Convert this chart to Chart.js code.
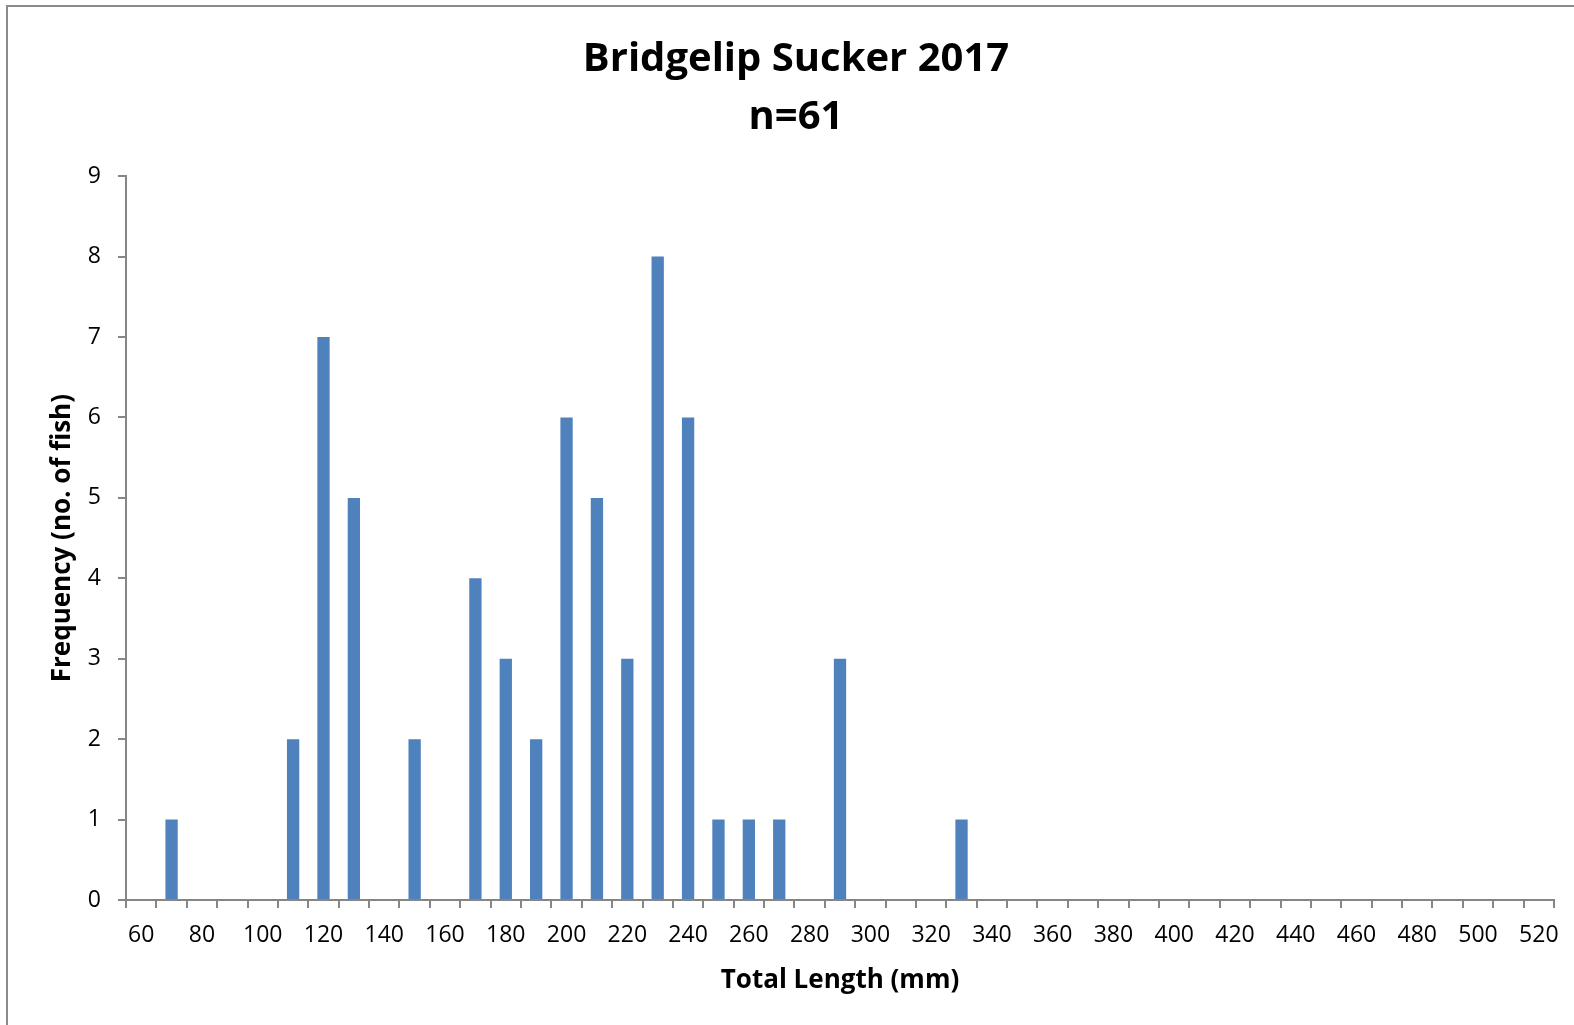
<!DOCTYPE html>
<html>
<head>
<meta charset="utf-8">
<script src="https://cdn.jsdelivr.net/npm/chart.js@4"></script>
<style>
    html, body { margin: 0; padding: 0; background: #fff; }
    #wrap { width: 1574px; height: 1025px; position: relative; }
</style>
</head>
<body>
<div id="wrap"><canvas id="myChart"></canvas></div>
<script>
// total length bins (mm)
const lengthBins = ['60', '70', '80', '90', '100', '110', '120', '130', '140', '150',
    '160', '170', '180', '190', '200', '210', '220', '230', '240', '250',
    '260', '270', '280', '290', '300', '310', '320', '330', '340', '350',
    '360', '370', '380', '390', '400', '410', '420', '430', '440', '450',
    '460', '470', '480', '490', '500', '510', '520'];

// number of fish in each bin
const fishCounts = [0, 1, 0, 0, 0, 2, 7, 5, 0, 2,
    0, 4, 3, 2, 6, 5, 3, 8, 6, 1,
    1, 1, 0, 3, 0, 0, 0, 1, 0, 0,
    0, 0, 0, 0, 0, 0, 0, 0, 0, 0,
    0, 0, 0, 0, 0, 0, 0];

const freqTicks = [0, 1, 2, 3, 4, 5, 6, 7, 8, 9];

const titleLines = ['Bridgelip Sucker 2017', 'n=61'];

const axisGray = '#868686';
const barBlue = '#4F81BD';
const fontFamily = "'Open Sans', 'Noto Sans', sans-serif";

// white page with the chart frame (top and left edges only show)
const frame = {
    id: 'frame',
    beforeDraw(chart) {
        const c = chart.ctx;
        c.save();
        c.fillStyle = '#fff';
        c.fillRect(0, 0, chart.width, chart.height);
        c.strokeStyle = '#8a8a8a';
        c.lineWidth = 2;
        c.beginPath();
        c.moveTo(7, chart.height);
        c.lineTo(7, 6);
        c.lineTo(chart.width, 6);
        c.stroke();
        c.restore();
    }
};

const ctx = document.getElementById('myChart');

new Chart(ctx, {
    type: 'bar',
    data: {
        labels: lengthBins,
        datasets: [{
            label: 'Frequency',
            data: fishCounts,
            backgroundColor: barBlue,
            borderWidth: 0,
            barPercentage: 1,
            categoryPercentage: 0.405
        }]
    },
    options: {
        responsive: true,
        maintainAspectRatio: false,
        animation: false,
        layout: { padding: { top: 0, left: 38, right: 20, bottom: 0 } },
        plugins: {
            legend: { display: false },
            tooltip: { enabled: false },
            title: {
                display: true,
                text: titleLines,
                color: '#000',
                font: { family: fontFamily, size: 40, weight: 'bold', lineHeight: 1.44 },
                padding: { top: 31, bottom: 30 }
            }
        },
        scales: {
            x: {
                afterFit(scale) { scale.height = 125; },
                border: { display: true, color: axisGray, width: 2 },
                grid: {
                    offset: true,
                    drawOnChartArea: false,
                    drawTicks: true,
                    tickLength: 8,
                    color: axisGray,
                    lineWidth: 2
                },
                ticks: {
                    autoSkip: false,
                    maxRotation: 0,
                    padding: 14,
                    color: '#000',
                    font: { family: fontFamily, size: 23 },
                    callback(value, index) {
                        return index % 2 === 0 ? lengthBins[index] : '';
                    }
                },
                title: {
                    display: true,
                    text: 'Total Length (mm)',
                    color: '#000',
                    font: { family: fontFamily, size: 26, weight: 'bold', lineHeight: 1.2 },
                    padding: { top: 29, bottom: 29 }
                }
            },
            y: {
                min: 0,
                max: 9,
                afterFit(scale) { scale.width = 88; },
                afterBuildTicks(scale) {
                    scale.ticks = freqTicks.map(v => ({ value: v }));
                },
                border: { display: true, color: axisGray, width: 2 },
                grid: {
                    drawOnChartArea: false,
                    drawTicks: true,
                    tickLength: 8,
                    color: axisGray,
                    lineWidth: 2
                },
                ticks: {
                    padding: 17,
                    color: '#000',
                    font: { family: fontFamily, size: 23 }
                },
                title: {
                    display: true,
                    text: 'Frequency (no. of fish)',
                    color: '#000',
                    font: { family: fontFamily, size: 26, weight: 'bold', lineHeight: 1.2 },
                    padding: { top: 9, bottom: 9 }
                }
            }
        }
    },
    plugins: [frame]
});
</script>
</body>
</html>
